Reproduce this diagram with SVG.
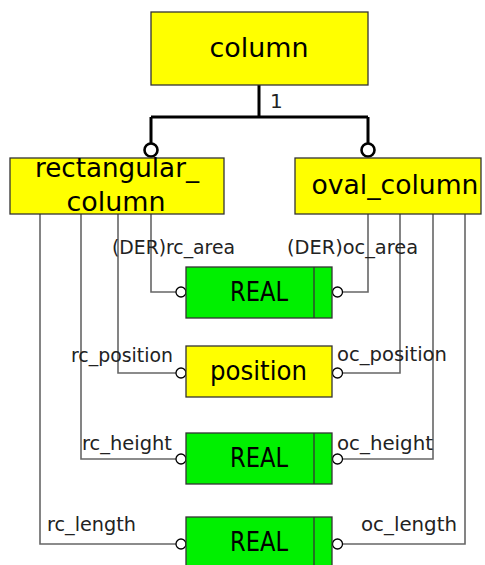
<svg xmlns="http://www.w3.org/2000/svg" width="485" height="565" viewBox="0 0 485 565">
<style>
.bg{fill:#ffffff}
.ent{fill:#ffff00;stroke:#333333;stroke-width:1.3}
.typ{fill:#00f000;stroke:#333333;stroke-width:1.3}
.div{stroke:#333333;stroke-width:1.3;fill:none}
.big{font-family:"DejaVu Sans",sans-serif;font-size:26px;fill:#000;text-anchor:middle}
.lbl{font-family:"DejaVu Sans",sans-serif;font-size:19px;fill:#222}
.con{fill:none;stroke:#666666;stroke-width:1.6}
.sup{fill:none;stroke:#000;stroke-width:3}
.ring{fill:#fff;stroke:#000;stroke-width:1.3}
.ringb{fill:#fff;stroke:#000;stroke-width:2.6}
</style>
<rect class="bg" x="0" y="0" width="485" height="565"/>
<g id="connectors">
  <path class="sup" d="M259,85 V117 M151,117 H368 M151,117 V143 M368,117 V143"/>
  <circle class="ringb" cx="151" cy="150" r="6.5"/>
  <circle class="ringb" cx="368" cy="150" r="6.5"/>
  <text x="270" y="108" font-family="DejaVu Sans, sans-serif" font-size="20" fill="#222">1</text>
  <path class="con" d="M151,214 V292 H176"/>
  <path class="con" d="M368,214 V292 H343"/>
  <path class="con" d="M118,214 V373 H176"/>
  <path class="con" d="M400,214 V373 H343"/>
  <path class="con" d="M81,214 V459 H176"/>
  <path class="con" d="M433,214 V459 H343"/>
  <path class="con" d="M40,214 V544 H176"/>
  <path class="con" d="M465,214 V544 H343"/>
  <circle class="ring" cx="181" cy="292" r="5"/>
  <circle class="ring" cx="337.5" cy="292" r="5"/>
  <circle class="ring" cx="181" cy="373" r="5"/>
  <circle class="ring" cx="337.5" cy="373" r="5"/>
  <circle class="ring" cx="181" cy="459" r="5"/>
  <circle class="ring" cx="337.5" cy="459" r="5"/>
  <circle class="ring" cx="181" cy="544" r="5"/>
  <circle class="ring" cx="337.5" cy="544" r="5"/>
  <text class="lbl" x="112" y="254" textLength="123" lengthAdjust="spacingAndGlyphs">(DER)rc_area</text>
  <text class="lbl" x="287" y="254" textLength="131" lengthAdjust="spacingAndGlyphs">(DER)oc_area</text>
  <text class="lbl" x="71" y="362" textLength="102" lengthAdjust="spacingAndGlyphs">rc_position</text>
  <text class="lbl" x="337" y="361" textLength="110" lengthAdjust="spacingAndGlyphs">oc_position</text>
  <text class="lbl" x="82" y="450" textLength="90" lengthAdjust="spacingAndGlyphs">rc_height</text>
  <text class="lbl" x="337" y="450" textLength="96" lengthAdjust="spacingAndGlyphs">oc_height</text>
  <text class="lbl" x="47" y="531" textLength="89" lengthAdjust="spacingAndGlyphs">rc_length</text>
  <text class="lbl" x="361" y="531" textLength="96" lengthAdjust="spacingAndGlyphs">oc_length</text>
</g>
<g id="column">
  <rect class="ent" x="151" y="12" width="217" height="73"/>
  <text class="big" x="259" y="57" textLength="99" lengthAdjust="spacingAndGlyphs">column</text>
</g>
<g id="rectangular_column">
  <rect class="ent" x="10" y="158" width="214" height="56"/>
  <text class="big" x="117" y="177" textLength="164" lengthAdjust="spacingAndGlyphs">rectangular_</text>
  <text class="big" x="116" y="211" textLength="99" lengthAdjust="spacingAndGlyphs">column</text>
</g>
<g id="oval_column">
  <rect class="ent" x="295" y="158" width="186" height="56"/>
  <text class="big" x="395" y="194" textLength="167" lengthAdjust="spacingAndGlyphs">oval_column</text>
</g>
<g id="real_area">
  <rect class="typ" x="186" y="267" width="146" height="51"/>
  <line class="div" x1="314" y1="267" x2="314" y2="318"/>
  <text class="big" x="259" y="301" textLength="58" lengthAdjust="spacingAndGlyphs">REAL</text>
</g>
<g id="position">
  <rect class="ent" x="186" y="346" width="146" height="51"/>
  <text class="big" x="258.5" y="380" textLength="97" lengthAdjust="spacingAndGlyphs">position</text>
</g>
<g id="real_height">
  <rect class="typ" x="186" y="433" width="146" height="51"/>
  <line class="div" x1="314" y1="433" x2="314" y2="484"/>
  <text class="big" x="259" y="467" textLength="58" lengthAdjust="spacingAndGlyphs">REAL</text>
</g>
<g id="real_length">
  <rect class="typ" x="186" y="517" width="146" height="51"/>
  <line class="div" x1="314" y1="517" x2="314" y2="568"/>
  <text class="big" x="259" y="551" textLength="58" lengthAdjust="spacingAndGlyphs">REAL</text>
</g>
</svg>
